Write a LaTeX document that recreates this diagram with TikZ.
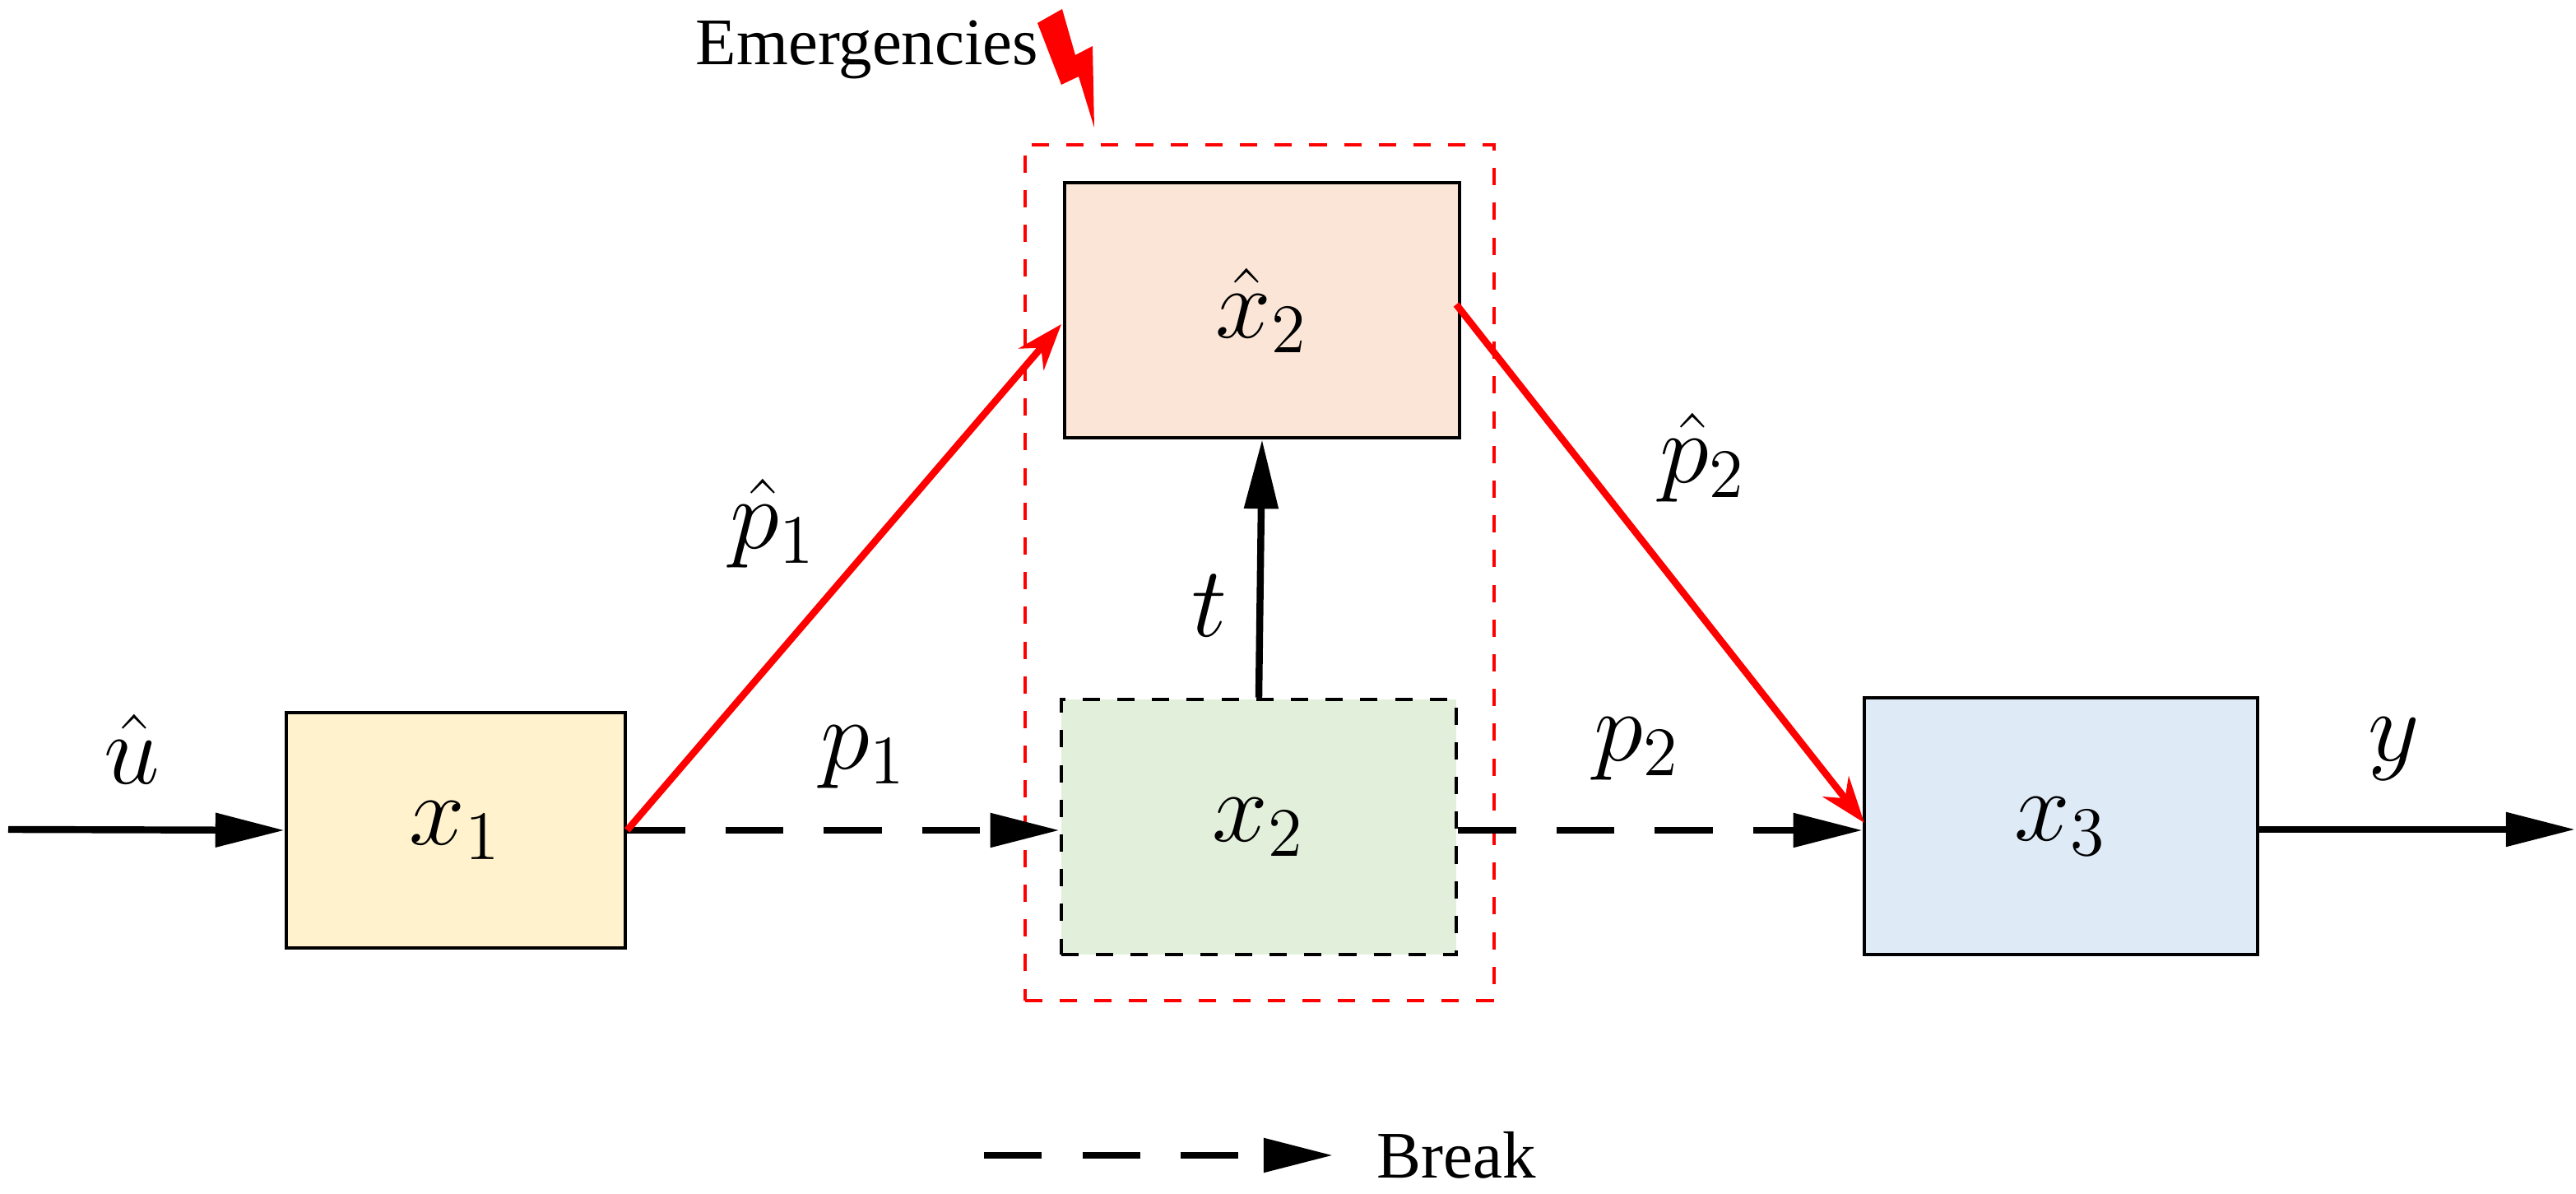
\documentclass[tikz,border=0pt]{standalone}
\usepackage{fontspec}
\setmainfont{Liberation Serif}
\usetikzlibrary{arrows.meta}
\begin{document}
\begin{tikzpicture}[x=0.01cm,y=-0.01cm,
  box/.style={draw=black,line width=0.6pt},
  lab/.style={font=\fontsize{17}{20}\selectfont},
  blk/.style={line width=1.2pt,-{Triangle[length=0.42cm,width=0.2cm]}},
  dsh/.style={blk,dash pattern=on 10pt off 7pt},
  rarr/.style={draw={rgb,255:red,255;green,0;blue,0},line width=1.2pt,-{Stealth[length=0.28cm,width=0.2cm]}}]
\useasboundingbox (0,0) rectangle (1565.5,725.5);
\definecolor{cy}{HTML}{FFF2CC}\definecolor{cg}{HTML}{E2EFDA}
\definecolor{co}{HTML}{FBE5D6}\definecolor{cb}{HTML}{DEEBF7}
\node[box,fill=cy,minimum width=2.06cm,minimum height=1.43cm,inner sep=0] (x1) at (277,504.5) {};
\node[lab] at (x1) {$x_1$};
\node[box,fill=cg,dashed,minimum width=2.4cm,minimum height=1.55cm,inner sep=0] (x2) at (765,502.5) {};
\node[lab] at (x2) {$x_2$};
\node[box,fill=co,minimum width=2.4cm,minimum height=1.55cm,inner sep=0] (hx2) at (767,188.5) {};
\node[lab] at (hx2) {$\hat{x}_2$};
\node[box,fill=cb,minimum width=2.39cm,minimum height=1.56cm,inner sep=0] (x3) at (1252.5,502) {};
\node[lab] at (x3) {$x_3$};
\node[draw=red,dashed,line width=0.6pt,minimum width=2.85cm,minimum height=5.2cm,inner sep=0] (em) at (765.5,348) {};
\coordinate (in) at (5,504);
\coordinate (out) at (1565,504);
\draw[blk] (in) -- (x1.west);
\draw[dsh] (x1.east) -- (x1.east -| x2.west);
\draw[rarr] (x1.east) -- (645,197);
\draw[blk] (x2.north) -- (hx2.south);
\draw[rarr] (885,185) -- (1133,500);
\draw[dsh] (x2.east |- x1.east) -- (x3.west |- x1.east);
\draw[blk] (x3.east |- out) -- (out);
\node[lab] at (80,455) {$\hat{u}$};
\node[lab] at (525,460) {$p_1$};
\node[lab] at (470,318) {$\hat{p}_1$};
\node[lab] at (735,368) {$t$};
\node[lab] at (1035,278) {$\hat{p}_2$};
\node[lab] at (995,455) {$p_2$};
\node[lab] at (1455,455) {$y$};
\coordinate (l1) at (598,702); \coordinate (l2) at (810,702);
\draw[dsh] (l1) -- (l2);
\node[font=\fontsize{11.5}{13}\selectfont] (brk) at (885,702) {Break};
\node[font=\fontsize{11.5}{13}\selectfont] (emt) at (527,30) {Emergencies};
\fill[red] (630.5,14) -- (645.5,5.5) -- (653.5,33.5) -- (664,28) -- (665,77.5) -- (655.5,46.5) -- (645,51.5) -- cycle;
\end{tikzpicture}
\end{document}
